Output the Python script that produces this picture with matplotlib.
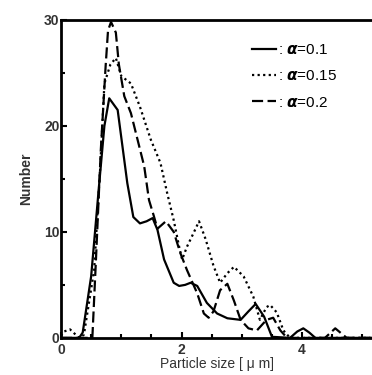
import matplotlib
matplotlib.use("Agg")
import matplotlib.pyplot as plt
import numpy as np

plt.rcParams['font.family'] = ['Liberation Sans', 'DejaVu Sans']

# alpha = 0.1 (solid)
size_01 = [0.0, 0.30, 0.36, 0.50, 0.63, 0.72, 0.80, 0.94, 1.10, 1.20, 1.31, 1.42, 1.52, 1.60,
           1.71, 1.87, 1.96, 2.06, 2.15, 2.26, 2.42, 2.59, 2.76, 2.98, 3.11, 3.23, 3.37, 3.50,
           3.80, 3.92, 4.02, 4.12, 4.22, 5.2]
num_01 = [0.0, 0.0, 0.5, 5.8, 14.3, 20.0, 22.6, 21.5, 14.6, 11.4, 10.8, 11.0, 11.3, 10.2,
          7.4, 5.2, 4.9, 5.0, 5.2, 4.9, 3.3, 2.3, 1.85, 1.7, 2.5, 3.2, 2.0, 0.1,
          0.0, 0.6, 0.9, 0.5, 0.0, 0.0]

# alpha = 0.15 (dotted)
size_015 = [0.0, 0.05, 0.15, 0.30, 0.38, 0.55, 0.65, 0.72, 0.82, 0.91, 1.00, 1.16, 1.31,
            1.49, 1.65, 1.76, 1.87, 1.96, 2.01, 2.09, 2.20, 2.29, 2.40, 2.53, 2.64, 2.76,
            2.87, 3.03, 3.19, 3.30, 3.41, 3.47, 3.58, 3.69, 3.80, 5.2]
num_015 = [0.2, 0.6, 0.8, 0.0, 0.3, 6.4, 16.0, 24.0, 25.8, 26.4, 24.7, 24.0, 21.8,
           18.7, 16.5, 13.7, 11.1, 8.6, 7.4, 8.6, 9.9, 11.0, 9.3, 6.8, 5.2, 6.1,
           6.7, 5.8, 3.9, 1.7, 2.9, 3.1, 2.4, 0.7, 0.0, 0.0]

# alpha = 0.2 (dashed)
size_02 = [0.0, 0.52, 0.58, 0.66, 0.74, 0.78, 0.83, 0.91, 0.96, 1.05, 1.16, 1.27, 1.38,
           1.46, 1.54, 1.60, 1.74, 1.87, 1.98, 2.09, 2.26, 2.37, 2.45, 2.53, 2.64, 2.76,
           2.87, 2.98, 3.11, 3.25, 3.41, 3.52, 3.64, 3.75, 4.38, 4.55, 4.74, 5.2]
num_02 = [0.0, 0.0, 7.4, 17.7, 25.6, 29.0, 29.8, 28.8, 25.8, 22.8, 21.2, 18.7, 16.2,
          13.0, 11.5, 10.3, 11.0, 10.0, 8.0, 6.4, 4.2, 2.3, 1.9, 2.5, 4.5, 5.1,
          3.5, 1.7, 0.9, 0.7, 1.7, 1.9, 0.7, 0.0, 0.0, 0.9, 0.0, 0.0]

labels = [r': $\boldsymbol{\alpha}$=0.1', r': $\boldsymbol{\alpha}$=0.15', r': $\boldsymbol{\alpha}$=0.2']

fig = plt.figure(figsize=(3.72, 3.75), dpi=100)
ax = fig.add_axes([0.164, 0.099, 0.836, 0.848])

ax.plot(size_01, num_01, color='black', lw=1.6, linestyle='-', label=labels[0])
ax.plot(size_015, num_015, color='black', lw=1.6, linestyle=(0, (1, 1.5)), label=labels[1])
ax.plot(size_02, num_02, color='black', lw=1.6, linestyle=(0, (5, 2)), label=labels[2])

ax.set_xlim(0, 5.16)
ax.set_ylim(0, 30)
ax.set_xticks([0, 2, 4])
ax.set_xticks(np.arange(0, 5.5, 0.5), minor=True)
ax.set_yticks([0, 10, 20, 30])
ax.set_yticks([5, 15, 25], minor=True)
ax.tick_params(which='both', direction='in', width=1.5, labelsize=10, colors='black')
ax.tick_params(which='major', length=4)
ax.tick_params(which='minor', length=3)
ax.tick_params(axis='x', pad=4)
ax.tick_params(axis='y', pad=1)
for lab in ax.get_xticklabels() + ax.get_yticklabels():
    lab.set_fontweight('bold')
    lab.set_color('#333333')

for side in ['left', 'bottom', 'top']:
    ax.spines[side].set_linewidth(2)
ax.spines['right'].set_visible(False)

ax.set_xlabel('Particle size [ μ m]', fontsize=10, labelpad=0, color='#333333')
ax.set_ylabel('Number', fontsize=10, fontweight='bold', labelpad=8, color='#333333')

ax.legend(loc='upper right', bbox_to_anchor=(0.93, 0.97), frameon=False, handlelength=1.6,
          handletextpad=0.1, labelspacing=0.8, fontsize=11)

fig.savefig('out.png', dpi=100)
